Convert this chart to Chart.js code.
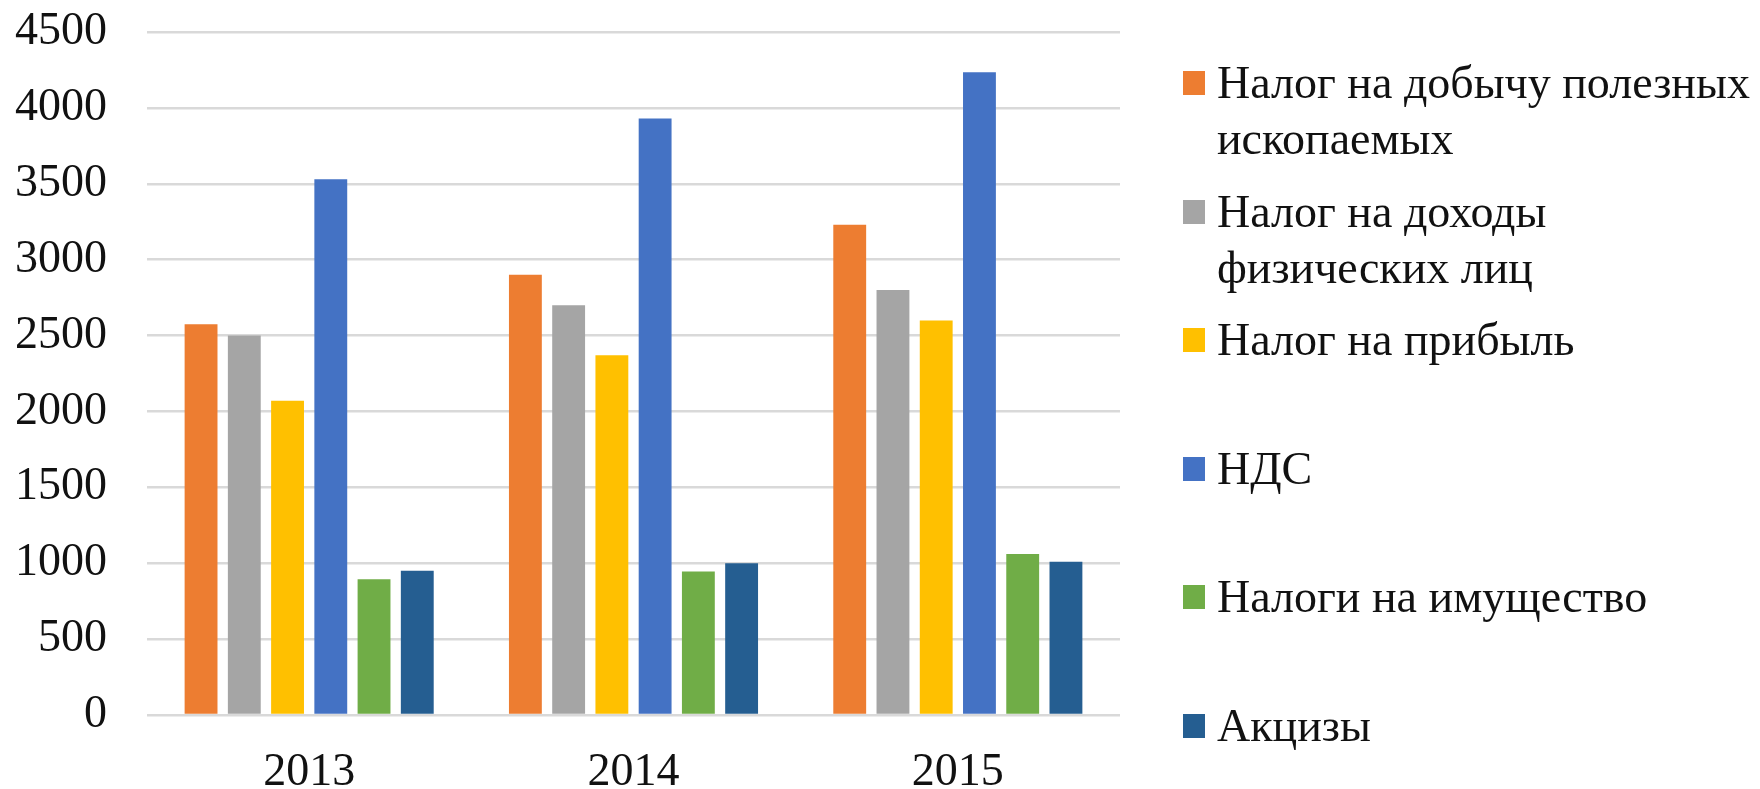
<!DOCTYPE html>
<html lang="ru">

<head>
    <meta charset="UTF-8">
    <title>Налоговые поступления 2013–2015</title>
    <script src="https://cdn.jsdelivr.net/npm/chart.js"></script>
    <style>
        body { margin: 0; background: #fff; }
        #wrap { position: relative; width: 1760px; height: 789px; }
        #legend {
            position: absolute; left: 1183px; top: 55px;
            font-family: "Liberation Serif", "Times New Roman", serif;
            font-size: 46px; color: #111;
        }
        .item { display: flex; align-items: flex-start; height: 128.5px; }
        .box { width: 22px; height: 24px; margin-top: 16px; margin-right: 12px; flex: none; }
        .txt { line-height: 56px; white-space: nowrap; }
    </style>
</head>

<body>
    <div id="wrap">
        <canvas id="taxChart" width="1760" height="789"></canvas>
        <div id="legend"></div>
    </div>

    <script>
        const years = ['2013', '2014', '2015'];

        // legend text, split on the same lines as in the legend
        const seriesNames = [
            ['Налог на добычу полезных', 'ископаемых'],
            ['Налог на доходы', 'физических лиц'],
            ['Налог на прибыль'],
            ['НДС'],
            ['Налоги на имущество'],
            ['Акцизы']
        ];
        const seriesColors = ['#ED7D31', '#A5A5A5', '#FFC000', '#4472C4', '#70AD47', '#255E91'];

        const mineralTax = [2575, 2900, 3230];
        const incomeTax = [2500, 2700, 2800];
        const profitTax = [2070, 2370, 2600];
        const vat = [3530, 3930, 4235];
        const propertyTax = [895, 945, 1060];
        const excise = [950, 1000, 1010];

        const yTicks = [0, 500, 1000, 1500, 2000, 2500, 3000, 3500, 4000, 4500];

        const seriesValues = [mineralTax, incomeTax, profitTax, vat, propertyTax, excise];

        const font = { family: '"Liberation Serif", "Times New Roman", serif', size: 46 };

        new Chart(document.getElementById('taxChart'), {
            type: 'bar',
            data: {
                labels: years,
                datasets: seriesValues.map((vals, i) => ({
                    label: seriesNames[i].join(' '),
                    data: vals,
                    backgroundColor: seriesColors[i],
                    borderWidth: 0,
                    barPercentage: 0.76,
                    categoryPercentage: 0.80
                }))
            },
            options: {
                responsive: false,
                animation: false,
                layout: { padding: { top: 0, right: 640, left: 0, bottom: 0 } },
                plugins: {
                    legend: { display: false },
                    tooltip: { enabled: false }
                },
                scales: {
                    x: {
                        grid: { display: false },
                        border: { display: false },
                        ticks: { color: '#111', font: font, padding: 22 },
                        afterFit: (s) => { s.height = 74; }
                    },
                    y: {
                        min: yTicks[0],
                        max: yTicks[yTicks.length - 1],
                        afterBuildTicks: (s) => { s.ticks = yTicks.map(v => ({ value: v })); },
                        grid: { color: '#d9d9d9', lineWidth: 2.5, drawTicks: false },
                        border: { display: false },
                        ticks: { color: '#111', font: font, padding: 40, callback: (v) => String(v) },
                        afterFit: (s) => {
                            s.width = 147;
                            // keep the plot top at 32px, the 4500 label fits above it
                            s.paddingTop = 32;
                            s.paddingBottom = 0;
                        }
                    }
                }
            }
        });

        // legend on the right, one entry per series
        const legend = document.getElementById('legend');
        seriesNames.forEach((lines, i) => {
            const item = document.createElement('div');
            item.className = 'item';
            const box = document.createElement('span');
            box.className = 'box';
            box.style.background = seriesColors[i];
            const txt = document.createElement('span');
            txt.className = 'txt';
            txt.innerHTML = lines.join('<br>');
            item.appendChild(box);
            item.appendChild(txt);
            legend.appendChild(item);
        });
    </script>
</body>

</html>
